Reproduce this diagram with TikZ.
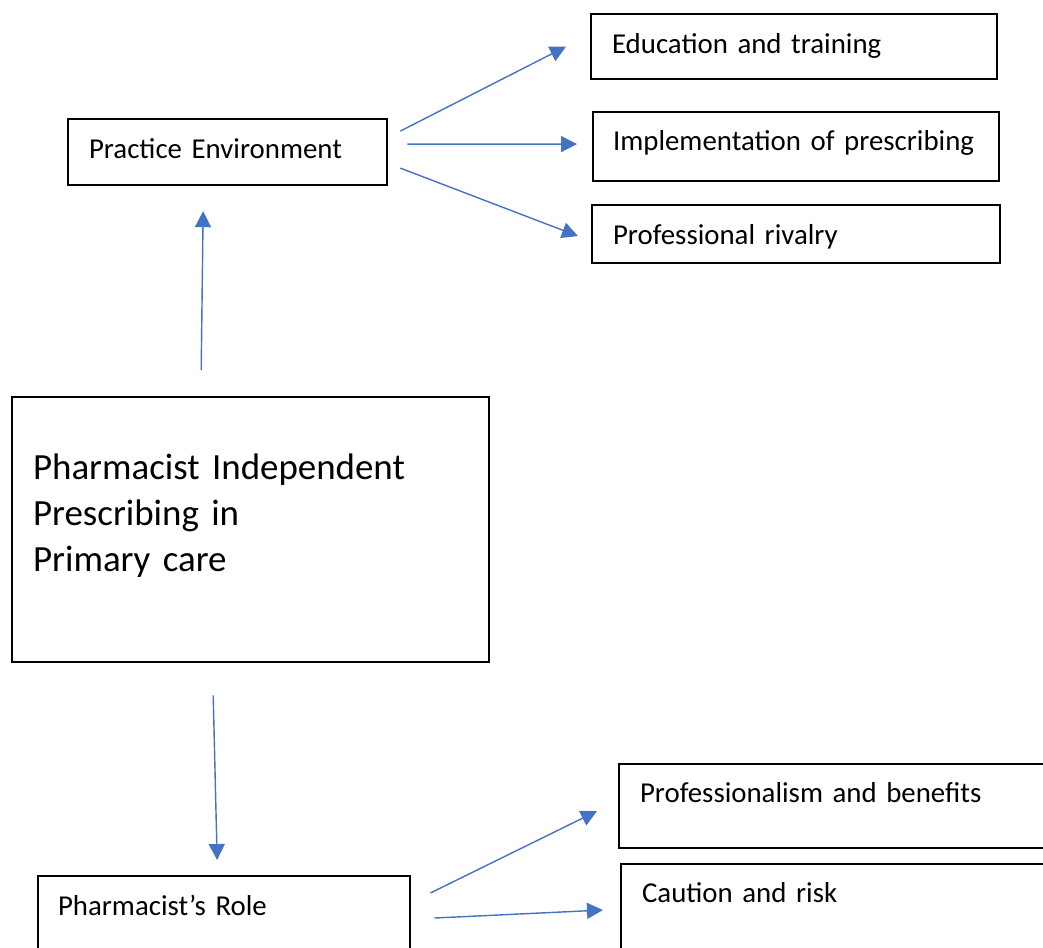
\documentclass[tikz,border=0pt]{standalone}
\usepackage{fontspec}
\setmainfont{Carlito}
\usetikzlibrary{arrows.meta}

\definecolor{azul}{HTML}{4472C4}

\tikzset{
  caixa/.style={draw, line width=0.6pt, anchor=north west, align=left,
    inner xsep=0.21cm, inner ysep=0pt, font=\fontsize{8.2}{10}\selectfont},
  seta/.style={draw=azul, line width=0.4pt,
    -{Triangle[length=0.16cm,width=0.16cm]}}
}

\begin{document}
\begin{tikzpicture}[x=0.01cm, y=-0.01cm]
    \useasboundingbox (0,0) rectangle (1043,947);

    % --- caixa central ---
    \node[caixa, text width=4.35cm, text height=0.82cm, text depth=1.83cm,
          font=\fontsize{10.5}{13.1}\selectfont] (pip) at (11,396)
      {Pharmacist Independent\\Prescribing in\\Primary care};

    % --- ramo superior ---
    \node[caixa, text width=2.77cm, text height=0.39cm, text depth=0.27cm]
      (ambiente) at (67,118) {Practice Environment};
    \node[caixa, text width=3.64cm, text height=0.39cm, text depth=0.26cm]
      (educacao) at (590,13) {Education and training};
    \node[caixa, text width=3.66cm, text height=0.38cm, text depth=0.31cm,
          inner xsep=0.20cm] (implementacao) at (592,111)
      {\mbox{Implementation of prescribing}};
    \node[caixa, text width=3.66cm, text height=0.39cm, text depth=0.19cm]
      (rivalidade) at (591,204) {Professional rivalry};

    % --- ramo inferior (caixas cortadas pela margem) ---
    \node[caixa, text width=3.32cm, text height=0.39cm, text depth=0.6cm,
          inner xsep=0.20cm] (papel) at (37,875) {Pharmacist’s Role};
    \node[caixa, text width=4.6cm, text height=0.38cm, text depth=0.46cm]
      (beneficios) at (618,763) {Professionalism and benefits};
    \node[caixa, text width=4.6cm, text height=0.38cm, text depth=0.7cm]
      (risco) at (620,863) {Caution and risk};

    % --- setas ---
    \draw[seta] ([shift={(-49.5,-26)}]pip.north) -- ([shift={(-24.5,25)}]ambiente.south);
    \draw[seta] ([shift={(-37.5,32)}]pip.south) -- ([shift={(-7,-15)}]papel.north);

    \draw[seta] ([shift={(12,-21)}]ambiente.east) -- ([shift={(-24,0)}]educacao.west);
    \draw[seta] ([shift={(19,-8)}]ambiente.east) -- ([shift={(-15,-2.5)}]implementacao.west);
    \draw[seta] ([shift={(12,16)}]ambiente.east) -- ([shift={(-13,2)}]rivalidade.west);

    \draw[seta] ([shift={(19,18)}]papel.north east) -- ([shift={(-21,5)}]beneficios.west);
    \draw[seta] ([shift={(23,43)}]papel.north east) -- ([shift={(-17,47)}]risco.north west);
\end{tikzpicture}
\end{document}
